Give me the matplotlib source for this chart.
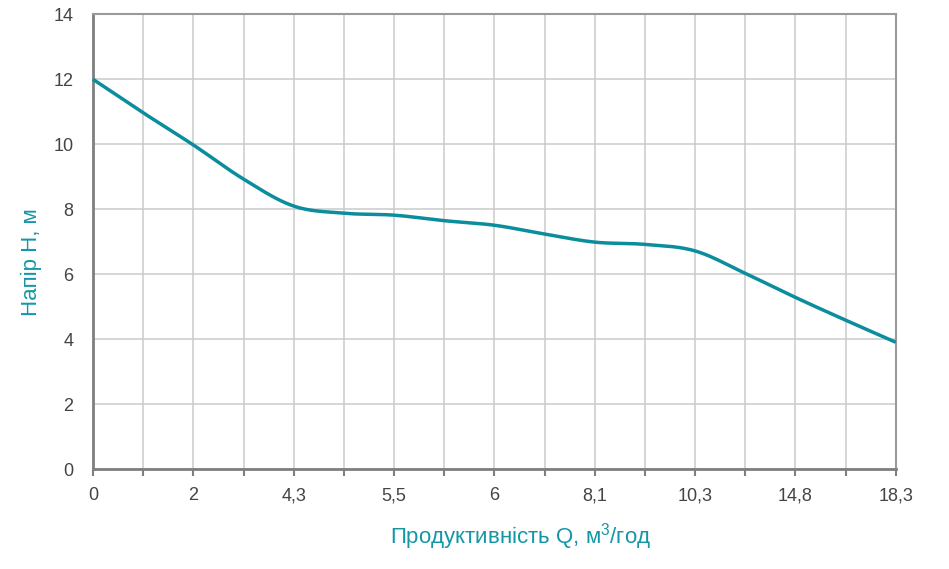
'''
plot.py

pump performance curve: head vs flow
'''
import numpy as np
import matplotlib
matplotlib.use("Agg")
import matplotlib.pyplot as plt

plt.rcParams['font.family'] = ['Liberation Sans', 'DejaVu Sans']
plt.rcParams['mathtext.fontset'] = 'custom'
plt.rcParams['mathtext.rm'] = 'Liberation Sans'

# flow labels shown on the x axis (categorical, evenly spaced)
flow_labels = ['0', '2', '4,3', '5,5', '6', '8,1', '10,3', '14,8', '18,3']
# head at every half step between the labels
curve_pos = [0, 0.5, 1, 1.5, 2, 2.5, 3, 3.5, 4, 4.5, 5, 5.5, 6, 6.5, 7, 7.5, 8]
head = [12.0, 10.97, 9.98, 8.93, 8.1, 7.88, 7.82, 7.65, 7.51, 7.24,
        6.99, 6.92, 6.72, 6.03, 5.29, 4.59, 3.91]

line_color = '#0a8d9d'
label_color = '#1596a6'
grid_color = '#cacaca'
axis_color = '#7f7f7f'
text_color = '#444444'


def smooth(xs, ys, steps=20):
    ''' catmull-rom curve through the points, only for drawing '''
    xs = np.asarray(xs, float)
    ys = np.asarray(ys, float)
    px = np.concatenate([[2 * xs[0] - xs[1]], xs, [2 * xs[-1] - xs[-2]]])
    py = np.concatenate([[2 * ys[0] - ys[1]], ys, [2 * ys[-1] - ys[-2]]])
    out_x, out_y = [], []
    t = np.linspace(0, 1, steps, endpoint=False)
    for i in range(1, len(px) - 2):
        for p, out in ((px, out_x), (py, out_y)):
            p0, p1, p2, p3 = p[i - 1], p[i], p[i + 1], p[i + 2]
            out.extend(0.5 * (2 * p1 + (-p0 + p2) * t
                              + (2 * p0 - 5 * p1 + 4 * p2 - p3) * t ** 2
                              + (-p0 + 3 * p1 - 3 * p2 + p3) * t ** 3))
    out_x.append(xs[-1])
    out_y.append(ys[-1])
    return out_x, out_y


fig = plt.figure(figsize=(9.49, 5.69), dpi=100)
ax = fig.add_axes([93 / 949, 1 - 469.3 / 569, (895.7 - 93) / 949, (469.3 - 14.3) / 569])

n = len(flow_labels)
ax.set_xlim(0, n - 1)
ax.set_ylim(0, 14)

ax.set_xticks(range(n))
ax.set_xticklabels(flow_labels)
ax.set_xticks(np.arange(0.5, n - 1, 1), minor=True)
ax.set_yticks(range(0, 15, 2))

ax.grid(True, which='both', axis='x', color=grid_color, linewidth=1.1)
ax.grid(True, which='major', axis='y', color=grid_color, linewidth=1.1)
ax.set_axisbelow(True)

sx, sy = smooth(curve_pos, head)
ax.plot(sx, sy, color=line_color, linewidth=2.5, solid_capstyle='butt', clip_on=False, zorder=3)

for side in ['left', 'bottom']:
    ax.spines[side].set_color(axis_color)
    ax.spines[side].set_linewidth(2.0)
for side in ['top', 'right']:
    ax.spines[side].set_color('#9a9a9a')
    ax.spines[side].set_linewidth(1.5)

ax.tick_params(axis='x', which='both', direction='out', length=5, width=1.5,
               color=axis_color, labelsize=13, labelcolor=text_color, pad=8)
ax.tick_params(axis='y', length=0, labelsize=13, labelcolor=text_color, pad=14)

fig.text(521 / 949, 1 - 537 / 569, 'Продуктивність Q, м$^3$/год', color=label_color,
         fontsize=16, ha='center', va='center')
fig.text(31 / 949, 1 - 262 / 569, 'Напір Н, м', color=label_color,
         fontsize=16, ha='center', va='center', rotation=90)

fig.savefig('out.png', dpi=100)
